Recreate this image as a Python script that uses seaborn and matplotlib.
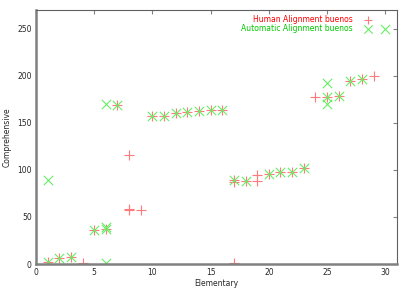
import matplotlib
matplotlib.use("Agg")
import matplotlib.pyplot as plt
import seaborn as sns
import pandas as pd

human_x = [1, 2, 3, 4, 5, 6, 7, 8, 8, 8, 9, 10, 11, 12, 13, 14, 15, 16, 17, 17, 17,
           18, 19, 19, 20, 21, 22, 23, 24, 25, 26, 27, 28, 29]
human_y = [2, 6, 7, 1, 36, 37, 169, 57, 116, 58, 57, 157, 157, 160, 162, 163, 164, 164, 89, 1, 87,
           88, 95, 88, 96, 98, 98, 102, 177, 178, 179, 194, 197, 200]

auto_x = [1, 1, 2, 3, 5, 6, 6, 6, 6, 7, 10, 11, 12, 13, 14, 15, 16, 17, 18, 20, 21, 22, 23,
          25, 25, 25, 26, 27, 28, 30]
auto_y = [89, 2, 6, 7, 36, 170, 39, 37, 1, 169, 157, 157, 160, 162, 163, 164, 164, 89, 88, 96, 98, 98, 102,
          192, 178, 170, 179, 194, 197, 250]

series_names = ["Human Alignment buenos", "Automatic Alignment buenos"]
x_ticks = [0, 5, 10, 15, 20, 25, 30]
y_ticks = [0, 50, 100, 150, 200, 250]

human_df = pd.DataFrame({"x": human_x, "y": human_y})
auto_df = pd.DataFrame({"x": auto_x, "y": auto_y})

sns.set_style("white")
plt.rcParams["font.family"] = ["DejaVu Sans"]

fig = plt.figure(figsize=(4.11, 2.88), dpi=100)
ax = fig.add_axes([0.0876, 0.0833, 0.878, 0.882])

sns.scatterplot(data=human_df, x="x", y="y", marker="+", color="#ff7a7a",
                s=45, linewidth=0.8, antialiased=False,
                label=series_names[0], ax=ax)
sns.scatterplot(data=auto_df, x="x", y="y", marker="x", color="#66ee66",
                s=45, linewidth=0.8, antialiased=False,
                label=series_names[1], ax=ax)

ax.set_xlim(0, 31)
ax.set_ylim(0, 270)
ax.set_xticks(x_ticks)
ax.set_yticks(y_ticks)
ax.tick_params(direction="in", length=3, width=0.8, color="#808080",
               labelsize=5.5, top=True, right=True, pad=3)
ax.set_xlabel("Elementary", fontsize=5.5, labelpad=1)
ax.set_ylabel("Comprehensive", fontsize=5.5, labelpad=4)

for side in ["left", "bottom"]:
    ax.spines[side].set_color("#808080")
    ax.spines[side].set_linewidth(1.8)
for side in ["top", "right"]:
    ax.spines[side].set_color("#606060")
    ax.spines[side].set_linewidth(0.8)

leg = ax.legend(loc="upper right", frameon=False, markerfirst=False, fontsize=5.5,
                handletextpad=1.0, borderaxespad=0.2, markerscale=0.9,
                labelspacing=0.1, bbox_to_anchor=(0.955, 1.0))
for t, c in zip(leg.get_texts(), ["#ff0000", "#00cc00"]):
    t.set_color(c)

fig.savefig("out.png", dpi=100)
